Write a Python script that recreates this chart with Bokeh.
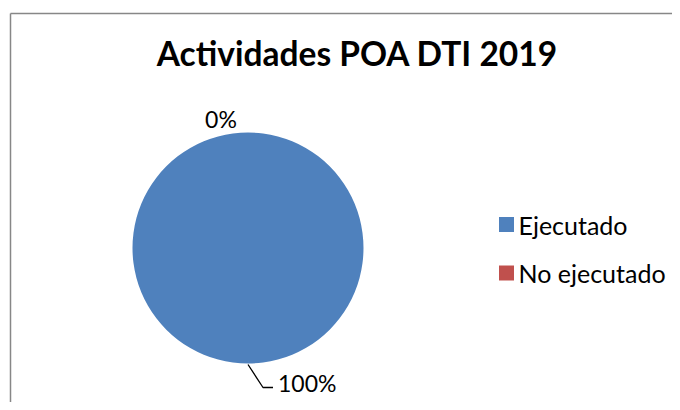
import math
from bokeh.plotting import figure
from bokeh.models import Range1d, ColumnDataSource
from bokeh.core.properties import value
from bokeh.embed import file_html
from bokeh.resources import INLINE

# ---- data ----
title = "Actividades POA DTI 2019"
categories = ["Ejecutado", "No ejecutado"]
values = [100, 0]
colors = ["#4F81BD", "#C0504D"]

# ---- layout (screen pixels of the page) ----
W, H = 672, 402
FONT = "Lato"
cx, cy, R = 247.5, 247.5, 115.5

p = figure(width=W, height=H, output_backend="svg", toolbar_location=None,
           x_range=Range1d(0, W), y_range=Range1d(H, 0),
           min_border=0, outline_line_color=None)
p.axis.visible = False
p.grid.visible = False
p.background_fill_color = "white"
p.border_fill_color = "white"

# chart border (cut off at right/bottom)
p.segment(x0=[10], y0=[13], x1=[10], y1=[H], line_color="#878787", line_width=1.5)
p.segment(x0=[10], y0=[13], x1=[W], y1=[13], line_color="#878787", line_width=1.5)

# title
p.text(x=[357], y=[52], text=[title], text_font=value(FONT), text_font_style="bold",
       text_font_size="33.5px", text_align="center", text_baseline="middle", text_color="black")

# pie slices: Excel starts at 12 o'clock, clockwise (y axis flipped -> increasing angle is clockwise)
total = sum(values)
starts, ends, mids = [], [], []
acc = -math.pi / 2
for v in values:
    a = 2 * math.pi * v / total
    starts.append(acc)
    ends.append(acc + min(a, 2 * math.pi - 1e-4))
    mids.append(acc + a / 2)
    acc += a

draw = [i for i, v in enumerate(values) if v > 0]
src = ColumnDataSource(dict(
    x=[cx] * len(draw), y=[cy] * len(draw),
    s=[starts[i] for i in draw], e=[ends[i] for i in draw],
    c=[colors[i] for i in draw]))
p.wedge(x="x", y="y", radius=R, radius_units="screen", start_angle="s", end_angle="e",
        direction="anticlock", fill_color="c", line_color=None, source=src)

# percentage labels
pct = [f"{round(100 * v / total)}%" for v in values]
for i, txt in enumerate(pct):
    ax = cx + (R + 12) * math.cos(mids[i])
    ay = cy + (R + 12) * math.sin(mids[i])
    if values[i] / total > 0.5:
        sx = cx + R * math.cos(mids[i])
        sy = cy + R * math.sin(mids[i])
        p.line(x=[sx, sx + 15, sx + 25], y=[sy + 1, sy + 24, sy + 24], line_color="black", line_width=1.3)
        p.text(x=[sx + 30], y=[sy + 19], text=[txt], text_font=value(FONT), text_font_size="23px",
               text_align="left", text_baseline="middle", text_color="black")
    else:
        p.text(x=[ax - 27], y=[ay - 2], text=[txt], text_font=value(FONT), text_font_size="23px",
               text_align="center", text_baseline="middle", text_color="black")

# legend
ly = [224, 272.5]
lx = 506
p.rect(x=[lx] * len(categories), y=ly, width=15, height=15, width_units="screen", height_units="screen",
       fill_color=colors, line_color=None)
p.text(x=[lx + 12] * len(categories), y=ly, text=categories, text_font=value(FONT), text_font_size="25px",
       text_align="left", text_baseline="middle", text_color="black")

open("out.html", "w").write(file_html(p, INLINE))
